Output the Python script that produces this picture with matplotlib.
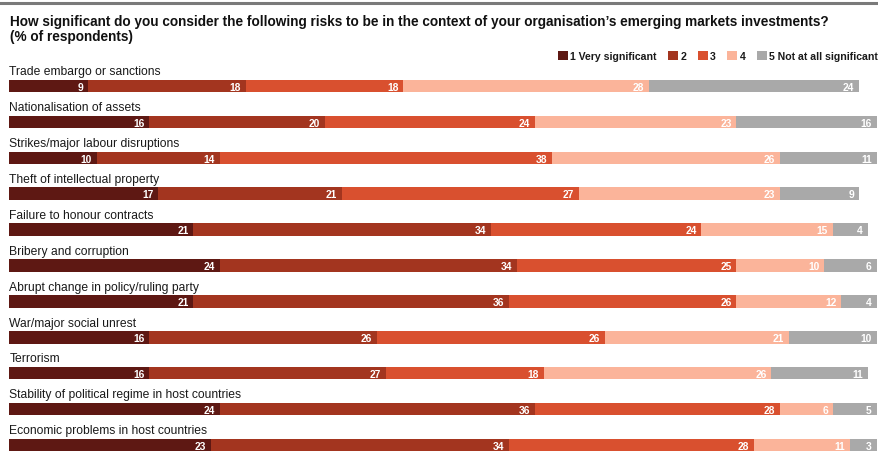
import matplotlib
matplotlib.use("Agg")
import matplotlib.pyplot as plt
from matplotlib.lines import Line2D
import numpy as np

plt.rcParams['font.family'] = ['Liberation Sans', 'DejaVu Sans']

risks = [
    "Trade embargo or sanctions",
    "Nationalisation of assets",
    "Strikes/major labour disruptions",
    "Theft of intellectual property",
    "Failure to honour contracts",
    "Bribery and corruption",
    "Abrupt change in policy/ruling party",
    "War/major social unrest",
    "Terrorism",
    "Stability of political regime in host countries",
    "Economic problems in host countries",
]
levels = ["1 Very significant", "2", "3", "4", "5 Not at all significant"]

very_significant = [9, 16, 10, 17, 21, 24, 21, 16, 16, 24, 23]
level_2 = [18, 20, 14, 21, 34, 34, 36, 26, 27, 36, 34]
level_3 = [18, 24, 38, 27, 24, 25, 26, 26, 18, 28, 28]
level_4 = [28, 23, 26, 23, 15, 10, 12, 21, 26, 6, 11]
not_significant = [24, 16, 11, 9, 4, 6, 4, 10, 11, 5, 3]

series = [very_significant, level_2, level_3, level_4, not_significant]
colors = ["#5e1813", "#a3351f", "#d9502f", "#fbb49a", "#a9a9a9"]

W, H = 879, 452
fig = plt.figure(figsize=(W / 100, H / 100), dpi=100)
fig.patch.set_facecolor("white")

# plot area in pixel geometry: bars start at x=9.3, 100% spans 876 px
x0_px, span_px = 9.3, 876.0
row0_px, pitch_px = 87.0, 35.9
ax = fig.add_axes([x0_px / W, 0, span_px / W, 1])
ax.set_xlim(0, 100)
ax.set_ylim((H - row0_px) / pitch_px, -row0_px / pitch_px)
ax.axis("off")

y = np.arange(len(risks))
bar_h = 12.5 / pitch_px
left = np.zeros(len(risks))
for vals, col, lab in zip(series, colors, levels):
    vals = np.array(vals, dtype=float)
    ax.barh(y, vals, left=left, height=bar_h, color=col, label=lab,
            edgecolor="none")
    for yi, (l, v) in enumerate(zip(left, vals)):
        ax.text(l + v - 0.55, yi + 0.02, f"{int(v)}", ha="right", va="center",
                color="white", fontsize=7.4, fontweight="bold")
    left += vals

for yi, name in enumerate(risks):
    ax.text(0, yi - bar_h / 2 - 5.5 / pitch_px, name, ha="left",
            va="baseline", fontsize=8.7, color="#1a1a1a")

# top rule
fig.add_artist(Line2D([0, 1], [1 - 4 / H, 1 - 4 / H], transform=fig.transFigure,
                      color="#7a7a7a", linewidth=2.2))

fig.text(9.5 / W, 1 - 26 / H,
         "How significant do you consider the following risks to be in the "
         "context of your organisation\u2019s emerging markets investments?",
         ha="left", va="baseline", fontsize=9.8, fontweight="bold",
         color="#111111")
fig.text(9.5 / W, 1 - 41 / H, "(% of respondents)", ha="left",
         va="baseline", fontsize=9.8, fontweight="bold", color="#111111")

handles, labels = ax.get_legend_handles_labels()
leg = fig.legend(handles, labels, loc="upper right",
                 bbox_to_anchor=(878 / W, 1 - 52 / H), ncol=5, frameon=False,
                 handlelength=0.95, handleheight=0.95, handletextpad=0.2,
                 columnspacing=1.1, borderaxespad=0, borderpad=0,
                 prop={"size": 7.6, "weight": "bold"})
for t in leg.get_texts():
    t.set_color("#1a1a1a")

fig.savefig("out.png", dpi=100, facecolor="white")
